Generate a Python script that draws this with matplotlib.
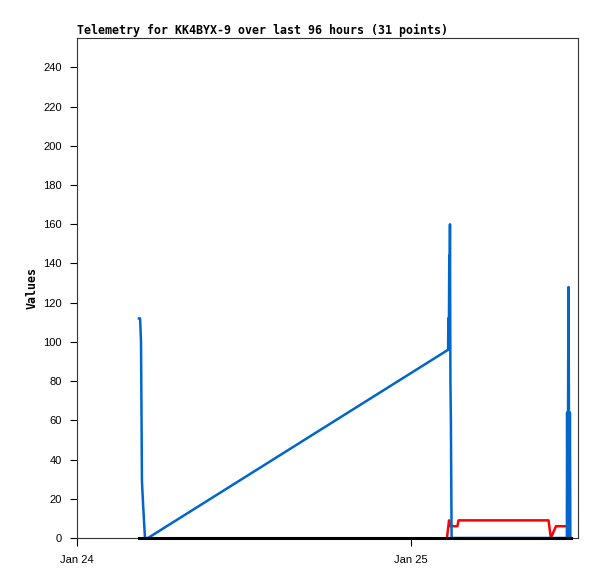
import matplotlib
matplotlib.use("Agg")
import matplotlib.pyplot as plt
import pandas as pd

# Data (timestamps and values)
blue_times = ["2024-01-24 04:27", "2024-01-24 04:32", "2024-01-24 04:36", "2024-01-24 04:40",
              "2024-01-24 04:45", "2024-01-24 04:53", "2024-01-24 05:06",
              "2024-01-25 02:40", "2024-01-25 02:41", "2024-01-25 02:43", "2024-01-25 02:45",
              "2024-01-25 02:46", "2024-01-25 02:48", "2024-01-25 02:50", "2024-01-25 02:52",
              "2024-01-25 02:55",
              "2024-01-25 11:12", "2024-01-25 11:13", "2024-01-25 11:15", "2024-01-25 11:17",
              "2024-01-25 11:19", "2024-01-25 11:21", "2024-01-25 11:23", "2024-01-25 11:25",
              "2024-01-25 11:27"]
blue_values = [112, 112, 100, 29, 17, 0, 0,
               96, 112, 96, 144, 112, 160, 80, 60,
               0,
               0, 64, 0, 64, 128, 64, 0, 64, 0]

red_times = ["2024-01-25 02:35", "2024-01-25 02:44", "2024-01-25 02:50", "2024-01-25 03:20",
             "2024-01-25 03:25", "2024-01-25 09:53", "2024-01-25 10:03", "2024-01-25 10:25",
             "2024-01-25 11:13"]
red_values = [0, 9, 6, 6, 9, 9, 0, 6, 6]

black_times = ["2024-01-24 04:27", "2024-01-25 11:30"]
black_values = [0, 0]

y_ticks = [0, 20, 40, 60, 80, 100, 120, 140, 160, 180, 200, 220, 240]
x_ticks = ["2024-01-24 00:00", "2024-01-25 00:00"]
x_tick_labels = ["Jan 24", "Jan 25"]
title = "Telemetry for KK4BYX-9 over last 96 hours (31 points)"
y_label = "Values"

fig = plt.figure(figsize=(5.97, 5.79), dpi=100)
ax = fig.add_axes([77/597, 1-538/579, (578-77)/597, (538-38)/579])

ax.plot(pd.to_datetime(red_times), red_values, color="#ff0000", lw=1.8, zorder=3)
ax.plot(pd.to_datetime(blue_times), blue_values, color="#0066cc", lw=1.8, zorder=4)
ax.plot(pd.to_datetime(black_times), black_values, color="black", lw=2.2, zorder=5,
        clip_on=False)

ax.set_xlim(pd.Timestamp("2024-01-24 00:00"), pd.Timestamp("2024-01-25 12:00"))
ax.set_ylim(0, 255)
ax.set_yticks(y_ticks)
ax.set_xticks(pd.to_datetime(x_ticks))
ax.set_xticklabels(x_tick_labels)

for lab in ax.get_xticklabels() + ax.get_yticklabels():
    lab.set_family("Liberation Sans")
    lab.set_fontsize(8)

ax.tick_params(axis="y", direction="out", length=5, width=0.8, pad=6)
ax.tick_params(axis="x", direction="out", length=6, width=0.8, pad=6)
for s in ax.spines.values():
    s.set_linewidth(0.8)
    s.set_color("#333333")

ax.set_title(title, loc="left", fontsize=8.35, fontweight="bold",
             family="DejaVu Sans Mono", pad=3)
ax.set_ylabel(y_label, fontsize=8.35, fontweight="bold", family="DejaVu Sans Mono", labelpad=3)

fig.savefig("out.png", dpi=100)
